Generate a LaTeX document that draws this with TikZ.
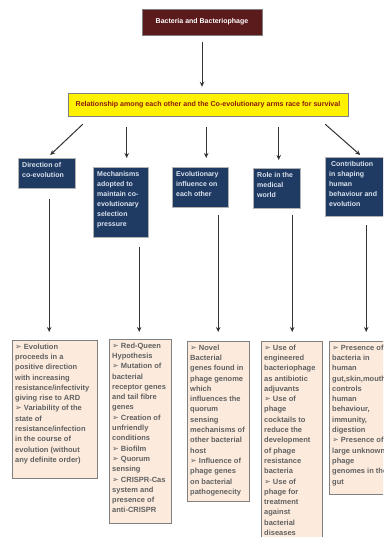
\documentclass[tikz,border=0pt]{standalone}
\usepackage{fontspec}
\setmainfont{Liberation Sans}
\newfontfamily\dingfont{DejaVu Sans}
\usepackage{tikz}
\usetikzlibrary{arrows.meta, positioning, calc}

\definecolor{topred}{HTML}{5B1A1C}
\definecolor{navy}{HTML}{1F3B63}
\definecolor{peach}{HTML}{FCEBDD}
\definecolor{bodygray}{HTML}{606060}
\definecolor{headred}{HTML}{8B1A10}
\definecolor{paleblue}{HTML}{DCE3EE}

\newcommand{\bul}{{\dingfont\fontsize{8}{8}\selectfont ➢}~}
\newcommand{\cell}[3]{\parbox[t][#1][t]{#2}{\raggedright #3}}

\begin{document}
\begin{tikzpicture}[x=1pt, y=-1pt,
    root/.style={draw=gray, fill=topred, text=white, minimum width=120pt, minimum height=26pt,
        font=\fontsize{7}{8}\selectfont\bfseries},
    theme/.style={draw=gray, fill=yellow, text=headred, minimum width=280pt, minimum height=23pt,
        font=\fontsize{7.1}{8}\selectfont\bfseries},
    branch/.style={draw=gray!60, fill=navy, text=paleblue, anchor=north west, inner sep=4pt,
        font=\fontsize{7}{10}\selectfont\bfseries},
    detail/.style={draw=gray, fill=peach, text=bodygray, anchor=north west, inner xsep=3pt, inner ysep=3.5pt,
        font=\fontsize{7.5}{10.3}\selectfont\bfseries},
    arr/.style={draw=black!80, line width=1pt, -{Stealth[length=5pt, width=4.5pt]}}]
    \useasboundingbox (0,0) rectangle (383,537);
    \clip (0,0) rectangle (383,537);
    \fill[white] (0,0) rectangle (383,537);

    \node[root] (top) at (202,22) {Bacteria and Bacteriophage};
    \node[theme] (rel) at (208,104.5) {Relationship among each other and the Co-evolutionary arms race for survival};

    \node[branch] (dir) at (18,158) {\cell{22pt}{49pt}{Direction of\\co-evolution}};
    \node[branch] (mech) at (93,167) {\cell{62pt}{47pt}{Mechanisms\\adopted to\\maintain co-\\evolutionary\\selection\\pressure}};
    \node[branch] (evo) at (172,167) {\cell{32pt}{48pt}{Evolutionary\\influence on\\each other}};
    \node[branch] (med) at (253,168) {\cell{32pt}{39pt}{Role in the\\medical\\world}};
    \node[branch] (hum) at (325,157) {\cell{51pt}{62pt}{\ Contribution\\in shaping\\human\\behaviour and\\evolution}};

    \node[detail] (ev1) at (12,340) {\cell{131pt}{79pt}{\bul Evolution\\proceeds in a\\positive direction\\with increasing\\resistance/infectivity\\giving rise to ARD\\\bul Variability of the\\state of\\resistance/infection\\in the course of\\evolution (without\\any definite order)}};
    \node[detail] (ev2) at (109,339) {\cell{177pt}{56pt}{\bul Red-Queen\\Hypothesis\\\bul Mutation of\\bacterial\\receptor genes\\and tail fibre\\genes\\\bul Creation of\\unfriendly\\conditions\\\bul Biofilm\\\bul Quorum\\sensing\\\bul CRISPR-Cas\\system and\\presence of\\anti-CRISPR}};
    \node[detail] (ev3) at (187,341) {\cell{153pt}{56pt}{\bul Novel\\Bacterial\\genes found in\\phage genome\\which\\influences the\\quorum\\sensing\\mechanisms of\\other bacterial\\host\\\bul Influence of\\phage genes\\on bacterial\\pathogenecity}};
    \node[detail] (ev4) at (261,341) {\cell{203pt}{55pt}{\bul Use of\\engineered\\bacteriophage\\as antibiotic\\adjuvants\\\bul Use of\\phage\\cocktails to\\reduce the\\development\\of phage\\resistance\\bacteria\\\bul Use of\\phage for\\treatment\\against\\bacterial\\diseases}};
    \node[detail] (ev5) at (329,341) {\cell{146pt}{68pt}{\bul Presence of\\bacteria in\\human\\gut,skin,mouth\\controls\\human\\behaviour,\\immunity,\\digestion\\\bul Presence of\\large unknown\\phage\\genomes in the\\gut}};

    \draw[arr, shorten <=7pt, shorten >=6pt] (top.south) -- (top.south |- rel.north);

    \draw[arr] ([xshift=15pt, yshift=-8pt]rel.south west) -- ([xshift=3.5pt, yshift=3pt]dir.north);
    \draw[arr, shorten <=11pt, shorten >=9pt] ([xshift=6pt]mech.north |- rel.south) -- ([xshift=6pt]mech.north);
    \draw[arr, shorten <=11pt, shorten >=9pt] ([xshift=6pt]evo.north |- rel.south) -- ([xshift=6pt]evo.north);
    \draw[arr, shorten <=11pt, shorten >=8pt] ([xshift=2pt]med.north |- rel.south) -- ([xshift=2pt]med.north);
    \draw[arr] ([xshift=-23pt, yshift=-8pt]rel.south east) -- ([yshift=2pt]hum.north);

    \draw[arr, shorten <=11pt, shorten >=8pt] ([xshift=2.5pt]dir.south) -- ([xshift=2.5pt]dir.south |- ev1.north);
    \draw[arr, shorten <=10pt, shorten >=7pt] ([xshift=18.5pt]mech.south) -- ([xshift=18.5pt]mech.south |- ev2.north);
    \draw[arr, shorten <=8pt, shorten >=9pt] ([xshift=18pt]evo.south) -- ([xshift=18pt]evo.south |- ev3.north);
    \draw[arr, shorten <=7pt, shorten >=9pt] ([xshift=15.5pt]med.south) -- ([xshift=15.5pt]med.south |- ev4.north);
    \draw[arr, shorten <=9pt, shorten >=9pt] ([xshift=6pt]hum.south) -- ([xshift=6pt]hum.south |- ev5.north);
\end{tikzpicture}
\end{document}
